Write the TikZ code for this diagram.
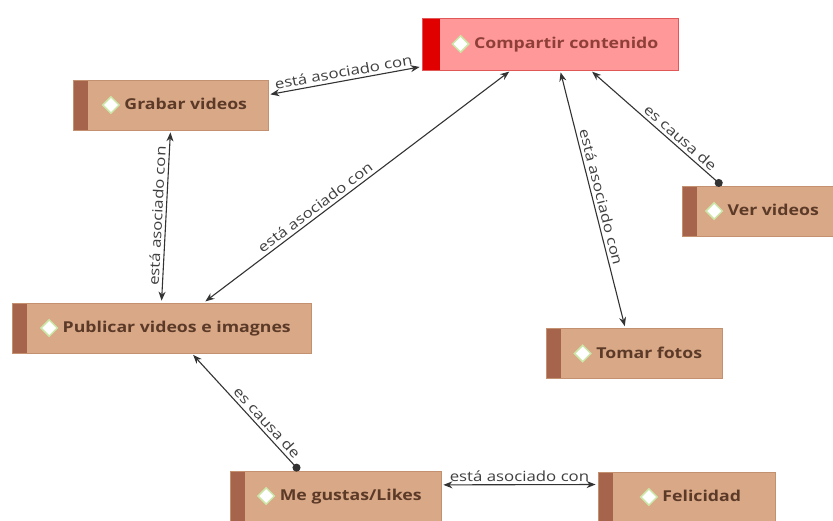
\documentclass[tikz,border=0pt]{standalone}
\usepackage{fontspec}
\setmainfont{Open Sans}
\newfontfamily\fuentenodo[FakeStretch=1.18]{Open Sans}
\newfontfamily\fuenteetiq[FakeStretch=1.2]{Open Sans}
\usetikzlibrary{arrows.meta,shapes.geometric}
\definecolor{cafeclaro}{HTML}{D9A887}
\definecolor{franjacafe}{HTML}{A5644B}
\definecolor{bordecafe}{HTML}{C39070}
\definecolor{textocafe}{HTML}{5C3A28}
\definecolor{rojoclaro}{HTML}{FF9898}
\definecolor{franjaroja}{HTML}{E00000}
\definecolor{borderojo}{HTML}{E05858}
\definecolor{textorojo}{HTML}{8E3F38}
\definecolor{verdeclaro}{HTML}{CBE6A6}
\newcommand{\rombo}{\tikz[baseline=-0.6ex]\node[diamond,draw=verdeclaro,fill=white,line width=1.5pt,inner sep=0pt,minimum size=17pt]{};}
\tikzset{
    concepto/.style={draw=bordecafe, fill=cafeclaro, line width=0.8pt, minimum height=50pt, text=textocafe,
        font=\fuentenodo\bfseries\fontsize{15}{17}\selectfont,
        path picture={\fill[franjacafe] (path picture bounding box.north west) rectangle ([xshift=15pt]path picture bounding box.south west);}},
    principal/.style={concepto, draw=borderojo, fill=rojoclaro, text=textorojo, minimum height=52pt,
        path picture={\fill[franjaroja] (path picture bounding box.north west) rectangle ([xshift=18pt]path picture bounding box.south west);}},
    doble/.style={{Stealth[length=9pt,width=7pt]}-{Stealth[length=9pt,width=7pt]}, line width=1.1pt, draw=black!80, shorten <=2pt, shorten >=2pt},
    causa/.style={{Circle[length=8pt]}-{Stealth[length=9pt,width=7pt]}, line width=1.1pt, draw=black!80, shorten >=2pt},
    etiqueta/.style={font=\fuenteetiq\fontsize{14}{16}\selectfont, text=black!75, inner sep=3pt}
}
\begin{document}
\begin{tikzpicture}[x=1pt,y=-1pt]
    \useasboundingbox [fill=white] (0,0) rectangle (833,521);
    \node [principal, minimum width=256pt] (comp) at (550,44) {\hspace*{10pt}\rombo\ Compartir contenido};
    \node [concepto, minimum width=195pt] (grabar) at (170.5,105) {\hspace*{8pt}\rombo\ Grabar videos};
    \node [concepto, minimum width=299pt] (publicar) at (161.5,328) {\hspace*{8pt}\rombo\ Publicar videos e imagnes};
    \node [concepto, minimum width=152pt] (ver) at (758,211) {\hspace*{8pt}\rombo\ Ver videos};
    \node [concepto, minimum width=176pt] (tomar) at (634,353.5) {\hspace*{8pt}\rombo\ Tomar fotos};
    \node [concepto, minimum width=211pt] (likes) at (335.5,496) {\hspace*{8pt}\rombo\ Me gustas/Likes};
    \node [concepto, minimum width=177pt] (feli) at (686.5,497) {\hspace*{8pt}\rombo\ Felicidad};
    \draw [doble] (grabar.6) -- node [etiqueta, sloped, above] {está asociado con} (comp.190);
    \draw [doble] (grabar.south) -- node [etiqueta, sloped, above] {está asociado con} (publicar.north);
    \draw [doble] (publicar.31) -- node [etiqueta, sloped, above, pos=0.38] {está asociado con} (comp.214);
    \draw [doble] (comp.291) -- node [etiqueta, sloped, above] {está asociado con} (tomar.109);
    \draw [causa] (ver.145) -- node [etiqueta, sloped, above, pos=0.36] {es causa de} (comp.327);
    \draw [causa] (likes.145) -- node [etiqueta, sloped, above, pos=0.36] {es causa de} (publicar.320);
    \draw [doble] (likes.6) -- node [etiqueta, above] {está asociado con} (feli.172);
\end{tikzpicture}
\end{document}
